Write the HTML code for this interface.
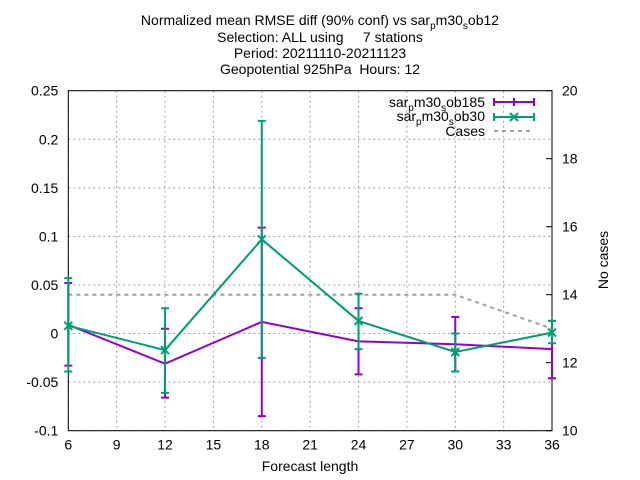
<!DOCTYPE html>
<html><head><meta charset="utf-8"><style>
html,body{margin:0;padding:0;background:#fff;}
svg{display:block;font-family:"Liberation Sans",sans-serif;}
text{white-space:pre;}
</style></head><body>
<svg id="chart" width="640" height="480">
<g font-size="14" text-anchor="middle" fill="#000">
<text x="320" y="25">Normalized mean RMSE diff (90% conf) vs sar<tspan font-size="10" dy="4">p</tspan><tspan dy="-4">m30</tspan><tspan font-size="10" dy="4">s</tspan><tspan dy="-4">ob12</tspan></text>
<text x="320" y="42">Selection: ALL using     7 stations</text>
<text x="320" y="58">Period: 20211110-20211123</text>
<text x="320" y="74">Geopotential 925hPa  Hours: 12</text>
</g>
<g id="grid"></g>
<g id="axes"></g>
<g id="series"></g>
<text x="310" y="471" font-size="14" text-anchor="middle">Forecast length</text>
<text transform="translate(608,260) rotate(-90)" font-size="14" text-anchor="middle">No cases</text>
<g font-size="14" text-anchor="end">
<g>
<text x="485" y="107">sar<tspan font-size="10" dy="4">p</tspan><tspan dy="-4">m30</tspan><tspan font-size="10" dy="4">s</tspan><tspan dy="-4">ob185</tspan></text>
<line x1="494" y1="102" x2="534" y2="102" stroke="#9400d3" stroke-width="2"/>
<line x1="494" y1="98" x2="494" y2="106" stroke="#9400d3" stroke-width="2"/><line x1="534" y1="98" x2="534" y2="106" stroke="#9400d3" stroke-width="2"/><line x1="514" y1="98" x2="514" y2="106" stroke="#9400d3" stroke-width="2"/>
</g>
<g>
<text x="485" y="121">sar<tspan font-size="10" dy="4">p</tspan><tspan dy="-4">m30</tspan><tspan font-size="10" dy="4">s</tspan><tspan dy="-4">ob30</tspan></text>
<line x1="494" y1="117" x2="534" y2="117" stroke="#009e73" stroke-width="2"/>
<line x1="494" y1="113" x2="494" y2="121" stroke="#009e73" stroke-width="2"/><line x1="534" y1="113" x2="534" y2="121" stroke="#009e73" stroke-width="2"/>
<path d="M510 113 L518 121 M510 121 L518 113" stroke="#009e73" stroke-width="2"/>
</g>
<g>
<text x="485" y="136">Cases</text>
<line x1="494" y1="131" x2="534" y2="131" stroke="#a0a0a0" stroke-width="2" stroke-dasharray="4,4"/>
</g>
</g>
</svg>
<script>
const categories=[6,12,18,24,30,36];
const ob185=[0.009,-0.031,0.012,-0.008,-0.011,-0.016];
const ob185Lo=[-0.033,-0.066,-0.085,-0.042,-0.039,-0.046];
const ob185Hi=[0.052,0.005,0.109,0.026,0.017,0.013];
const ob30=[0.008,-0.017,0.097,0.013,-0.019,0.001];
const ob30Lo=[-0.039,-0.061,-0.025,-0.016,-0.039,-0.010];
const ob30Hi=[0.057,0.026,0.219,0.041,0.0,0.013];
const cases=[14,14,14,14,14,13];
const xTicks=[6,9,12,15,18,21,24,27,30,33,36];
const yTicks=[-0.1,-0.05,0,0.05,0.1,0.15,0.2,0.25];
const yTickLabels=["-0.1","-0.05","0","0.05","0.1","0.15","0.2","0.25"];
const y2Ticks=[10,12,14,16,18,20];

const L=68.3,R=552,T=90.7,B=430.7;
const NS="http://www.w3.org/2000/svg";
function X(v){return L+(v-6)/30*(R-L);}
function Y(v){return B-(v+0.1)/0.35*(B-T);}
function Y2(v){return B-(v-10)/10*(B-T);}
function mk(parent,tag,attrs){const e=document.createElementNS(NS,tag);for(const k in attrs)e.setAttribute(k,attrs[k]);document.getElementById(parent).appendChild(e);return e;}

xTicks.forEach((t,i)=>{
  const g=mk('grid','line',{x1:X(t),x2:X(t),y1:T,y2:B,stroke:'#a0a0a0','stroke-width':1,'stroke-dasharray':'2,3'});
  
  
  const tk=mk('axes','text',{x:X(t),y:B+19,'font-size':14,'text-anchor':'middle'});
  tk.textContent=t;
  
  
});
yTicks.forEach((t,i)=>{
  const g=mk('grid','line',{x1:L,x2:R,y1:Y(t),y2:Y(t),stroke:'#a0a0a0','stroke-width':1,'stroke-dasharray':'2,3'});
  
  
  const tk=mk('axes','text',{x:L-10,y:Y(t)+5,'font-size':14,'text-anchor':'end'});
  tk.textContent=yTickLabels[i];
  
  
});
y2Ticks.forEach(t=>{
  const tk=mk('axes','text',{x:R+10,y:Y2(t)+5,'font-size':14,'text-anchor':'start'});
  tk.textContent=t;
  
  
  const m=mk('axes','line',{x1:R-6,x2:R,y1:Y2(t),y2:Y2(t),stroke:'#000'});
  
  
});
const frame=mk('axes','rect',{x:L,y:T,width:R-L,height:B-T,fill:'none',stroke:'#000','stroke-width':1});



const cl=mk('series','polyline',{points:categories.map((c,i)=>X(c)+','+Y2(cases[i])).join(' '),fill:'none',stroke:'#a0a0a0','stroke-width':2,'stroke-dasharray':'4,4'});



function series(vals,lo,hi,color,name,cross){
  const pl=mk('series','polyline',{points:categories.map((c,i)=>X(c)+','+Y(vals[i])).join(' '),fill:'none',stroke:color,'stroke-width':2});
  
  
  categories.forEach((c,i)=>{
    const x=X(c);
    const eb=mk('series','path',{d:`M${x} ${Y(lo[i])}V${Y(hi[i])}M${x-4} ${Y(lo[i])}H${x+4}M${x-4} ${Y(hi[i])}H${x+4}`,stroke:color,'stroke-width':2,fill:'none'});
    
    
    if(cross){
      const y=Y(vals[i]);
      const p=mk('series','path',{d:`M${x-4} ${y-4}L${x+4} ${y+4}M${x-4} ${y+4}L${x+4} ${y-4}`,stroke:color,'stroke-width':2});
      
      
    }
  });
}
series(ob185,ob185Lo,ob185Hi,'#9400d3','ob185',false);
series(ob30,ob30Lo,ob30Hi,'#009e73','ob30',true);
</script>
</body></html>
